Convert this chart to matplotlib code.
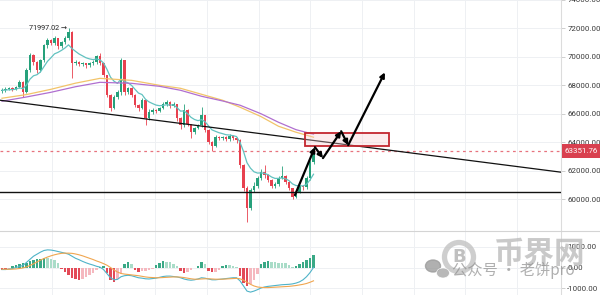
import numpy as np
import pandas as pd
import matplotlib
matplotlib.use("Agg")
import matplotlib.pyplot as plt
from matplotlib.patches import Rectangle, Circle, Ellipse
from matplotlib.transforms import blended_transform_factory

# ---- BTC daily candles ----
first_open = 67600
closes = [67650, 67720, 67790, 67720, 67860, 68210, 67510, 69050, 70100, 69610,
          69050, 69750, 70810, 71160, 70950, 71300, 70740, 71020, 71300, 71720,
          69540, 69610, 69470, 69540, 69400, 69540, 69610, 70030, 69540, 68700,
          67300, 66390, 67160, 67510, 69750, 67510, 67790, 67300, 66600, 66390,
          66950, 65680, 66100, 66250, 66180, 66390, 66670, 66810, 66530, 66670,
          65680, 65190, 66250, 65260, 64700, 64980, 65190, 65890, 64840, 64000,
          63720, 64350, 64280, 64350, 64210, 64420, 64280, 64140, 62390, 60770,
          59370, 60630, 60910, 61470, 61890, 61680, 61330, 60910, 61050, 61470,
          61610, 61190, 60770, 60140, 60490, 60910, 60840, 61470, 62600, 63351.76]
highs = [67800, 67850, 67900, 67850, 67950, 68400, 68300, 69200, 70300, 70200,
         69700, 69850, 70900, 71350, 71250, 71450, 71350, 71150, 71450, 71997.02,
         71800, 69800, 69700, 69650, 69600, 69650, 69750, 70150, 70250, 69600,
         68750, 67400, 67300, 67650, 69950, 69800, 67900, 67900, 67400, 66700,
         67100, 67000, 66300, 66400, 66350, 66500, 66800, 66950, 66900, 66800,
         66700, 65800, 66700, 66300, 65300, 65100, 65300, 66450, 65900, 64900,
         64100, 64500, 64450, 64450, 64400, 64550, 64500, 64350, 64200, 62450,
         60900, 60800, 61200, 61600, 62100, 62400, 61750, 61400, 61200, 61600,
         62300, 61700, 61300, 60800, 60600, 61000, 61000, 61600, 62750, 63700]
lows = [67450, 67550, 67650, 67600, 67650, 67800, 67200, 67450, 68950, 69450,
        68900, 68950, 69650, 70650, 70800, 70850, 70550, 70650, 70900, 71200,
        68490, 69400, 69350, 69350, 69250, 69300, 69450, 69500, 69400, 68550,
        67150, 66200, 66300, 67050, 67350, 67350, 67400, 67150, 66450, 66200,
        66300, 65200, 65550, 66000, 66050, 66100, 66300, 66550, 66400, 66450,
        65500, 64950, 65100, 65150, 64300, 64550, 64900, 65050, 64700, 63850,
        63400, 63650, 64150, 64150, 64100, 64100, 64150, 63950, 62200, 60600,
        58400, 59200, 60500, 60800, 61350, 61500, 61200, 60750, 60800, 60950,
        61400, 61050, 60650, 60000, 60050, 60400, 60650, 60700, 61350, 62500]

# ---- long moving averages (sampled) ----
ma_idx = [0, 7, 14, 21, 28, 37, 45, 51, 57, 63, 68, 74, 79, 84, 89]
ma_orange = [67090, 67350, 67720, 68150, 68490, 68350, 68000, 67790, 67370,
             66950, 66460, 65800, 65120, 64700, 64350]
ma_purple = [66880, 67180, 67510, 67900, 68210, 68140, 67930, 67650, 67230,
             66900, 66600, 66000, 65400, 64880, 64560]

# ---- MACD (12, 26, 9) ----
macd_hist = [-100, -120, -80, 50, 120, 180, 200, 220, 300, 380,
             400, 430, 470, 450, 430, 380, 200, -50, -200, -380,
             -500, -580, -600, -560, -480, -380, -250, -120, 30, 60,
             -250, -600, -700, -550, -300, 150, 250, 180, -100, -200,
             -180, -150, -120, -60, 100, 220, 300, 290, 250, 180,
             80, -150, -250, -230, -120, -40, 80, 250, 150, -150,
             -230, -200, -100, 60, 120, 110, 90, 40, -400, -750,
             -900, -800, -600, -300, 150, 280, 300, 280, 250, 240,
             230, 200, 120, 30, 80, 150, 250, 350, 480, 620]
macd_line = [-100, -100, -80, -50, 0, 50, 100, 250, 400, 550,
             650, 750, 830, 860, 850, 820, 780, 740, 700, 650,
             550, 450, 380, 300, 230, 170, 120, 60, 20, -100,
             -300, -500, -600, -580, -450, -400, -380, -400, -450, -500,
             -520, -550, -560, -540, -520, -480, -440, -420, -420, -440,
             -460, -500, -560, -600, -620, -600, -560, -500, -520, -560,
             -600, -600, -580, -560, -540, -520, -500, -500, -650, -900,
             -1150, -1200, -1150, -1080, -1000, -950, -920, -900, -880, -860,
             -840, -830, -820, -800, -760, -700, -600, -450, -250, 0]
signal_line = [-80, -85, -85, -80, -70, -50, -20, 30, 100, 180,
               270, 360, 440, 510, 570, 620, 660, 690, 700, 700,
               690, 660, 620, 570, 510, 450, 390, 320, 260, 190,
               110, 0, -120, -220, -290, -320, -340, -360, -380, -400,
               -430, -460, -480, -490, -500, -500, -490, -480, -470, -460,
               -460, -470, -490, -520, -550, -570, -570, -560, -550, -550,
               -560, -570, -570, -570, -560, -550, -540, -530, -550, -620,
               -720, -820, -900, -950, -970, -980, -980, -970, -960, -950,
               -940, -930, -920, -900, -880, -850, -820, -780, -720, -650]

# ---- drawn levels / projection ----
support_level = 60490
trend_x = [-0.57, 159.7]
trend_y = [66950, 61890]
zone_x = [86.6, 110.6]
zone_y = [63720, 64630]
path_x = [83.7, 89.4, 91.7, 96.9, 98.9, 109.4]
path_y = [60280, 63650, 62880, 64770, 63790, 68910]
high_label = 71997.02
price_ticks = [60000, 62000, 64000, 66000, 68000, 70000, 72000, 74000]
macd_ticks = [-1000, 0, 1000]

UP, DOWN = "#26a17b", "#e8414f"
FONT = ["Roboto", "DejaVu Sans"]
LABEL_SIZE = 5.7

n = len(closes)
x = np.arange(n)
c = np.array(closes, dtype=float)
o = np.concatenate([[first_open], c[:-1]])
h = np.array(highs, dtype=float)
l = np.array(lows, dtype=float)

fig = plt.figure(figsize=(6.0, 2.95), dpi=100)
W, H = 600, 295
ax = fig.add_axes([0, 64 / H, 561 / W, 231 / H])
mx = fig.add_axes([0, 0, 561 / W, 64 / H], sharex=ax)

xmin, xmax = -0.571, 159.71
vgrid = np.arange(14.29, xmax, 14.76)
for a in (ax, mx):
    a.set_facecolor("white")
    for s in ("left", "top", "bottom"):
        a.spines[s].set_visible(False)
    a.spines["right"].set_color("#dcdcdc")
    a.spines["right"].set_linewidth(0.8)
    a.yaxis.tick_right()
    a.tick_params(axis="y", length=3, width=0.6, color="#c8c8c8", pad=1.5,
                  labelsize=LABEL_SIZE, labelcolor="#3a3a3a")
    a.tick_params(axis="x", length=0, labelbottom=False)
    a.set_xticks(vgrid)
    a.grid(True, color="#eef0f3", lw=0.7)
    a.set_axisbelow(True)
ax.set_xlim(xmin, xmax)

# ---- price pane ----
ax.set_ylim(57753, 73965)
ax.set_yticks(price_ticks)
ax.set_yticklabels([f"{v:.2f}" for v in price_ticks], family=FONT)

up = c >= o
cols = np.where(up, UP, DOWN)
ax.vlines(x, l, h, colors=cols, lw=0.6, zorder=3)
body_lo = np.minimum(o, c)
body_h = np.maximum(np.abs(c - o), 40)
ax.bar(x, body_h, bottom=body_lo, width=0.7, color=cols, lw=0, zorder=4)

ema_fast = pd.Series(c).ewm(span=9, adjust=False).mean()
ax.plot(x, ema_fast, color="#62c2c0", lw=0.9, zorder=5)
ax.plot(ma_idx, ma_orange, color="#f2c46a", lw=0.9, zorder=5)
ax.plot(ma_idx, ma_purple, color="#b06fd0", lw=0.9, zorder=5)

ax.axhline(support_level, color="#111111", lw=1.0, zorder=6)
ax.plot(trend_x, trend_y, color="#111111", lw=0.9, zorder=6)
ax.axhline(closes[-1], color="#e2505e", lw=0.9, ls=(0, (2.2, 2.8)), alpha=0.8, zorder=2)

ax.add_patch(Rectangle((zone_x[0], zone_y[0]), zone_x[1] - zone_x[0],
                       zone_y[1] - zone_y[0], facecolor=(0.97, 0.80, 0.82, 0.35),
                       edgecolor="#c3262f", lw=1.3, zorder=7))

for k in range(len(path_x) - 1):
    ax.annotate("", xy=(path_x[k + 1], path_y[k + 1]), xytext=(path_x[k], path_y[k]),
                arrowprops=dict(arrowstyle="-|>", color="black", lw=1.6,
                                mutation_scale=7, shrinkA=0, shrinkB=0),
                zorder=8)

i_hi = int(np.argmax(h))
ax.text(i_hi - 0.3, high_label, f"{high_label:.2f} \u2192", ha="right", va="center",
        fontsize=5.2, color="#222222", family=FONT, zorder=8)

# current price tag on the axis
tr = blended_transform_factory(ax.transAxes, ax.transData)
px_unit = 1 / 561
tag_h = 14 * (73965 - 57753) / 231
ax.add_patch(Rectangle((1 + 1 * px_unit, closes[-1] - tag_h / 2), 39 * px_unit, tag_h,
                       transform=tr, facecolor="#d9404f", edgecolor="none",
                       clip_on=False, zorder=9))
ax.text(1 + 20 * px_unit, closes[-1], f"{closes[-1]:.2f}", transform=tr,
        ha="center", va="center", fontsize=LABEL_SIZE, color="white", family=FONT,
        clip_on=False, zorder=10)

# ---- MACD pane ----
hist = np.array(macd_hist, dtype=float)
prev = np.concatenate([[0], hist[:-1]])
hcols = np.where(hist >= 0, np.where(hist >= prev, "#3aa986", "#a9dcc8"),
                 np.where(hist <= prev, "#e34a57", "#f5b8bf"))
mx.bar(x, hist, width=0.75, color=hcols, lw=0, zorder=3)
mx.plot(x, macd_line, color="#4fb3c8", lw=0.8, zorder=4)
mx.plot(x, signal_line, color="#f0a650", lw=0.8, zorder=4)
mx.set_ylim(-1341, 1780)
mx.set_yticks(macd_ticks)
mx.set_yticklabels([f"{v:.2f}" for v in macd_ticks], family=FONT)

# pane separator
fig.add_artist(plt.Line2D([0, 1], [64 / H, 64 / H], color="#d4d4d4", lw=0.8))

# ---- watermark ----
ov = fig.add_axes([0, 0, 1, 1], zorder=20)
ov.set_xlim(0, W)
ov.set_ylim(H, 0)
ov.axis("off")
ov.patch.set_alpha(0)
ov.add_patch(Circle((459, 257), 14.5, fill=False, lw=3.8, ec="#c2c2c2", alpha=0.8))
ov.text(459, 257, "B", ha="center", va="center", fontsize=13, fontweight="bold",
        color="#b5b5b5", family="DejaVu Sans", alpha=0.85)
ov.text(540, 254, "币界网", ha="center", va="center", fontsize=22, fontweight="bold",
        color="#bcbcbc", family=["Noto Sans CJK SC"], alpha=0.8)
ov.add_patch(Ellipse((433, 266), 15, 12, color="#9c9c9c", alpha=0.8))
ov.add_patch(Ellipse((443, 273), 13, 10, color="#a6a6a6", alpha=0.8, ec="white", lw=0.6))
ov.text(452, 270, "公众号 · 老饼pro", ha="left", va="center", fontsize=11,
        color="#8e8e8e", family=["Noto Sans CJK SC", "DejaVu Sans"], alpha=0.7)

fig.savefig("out.png", dpi=100)
